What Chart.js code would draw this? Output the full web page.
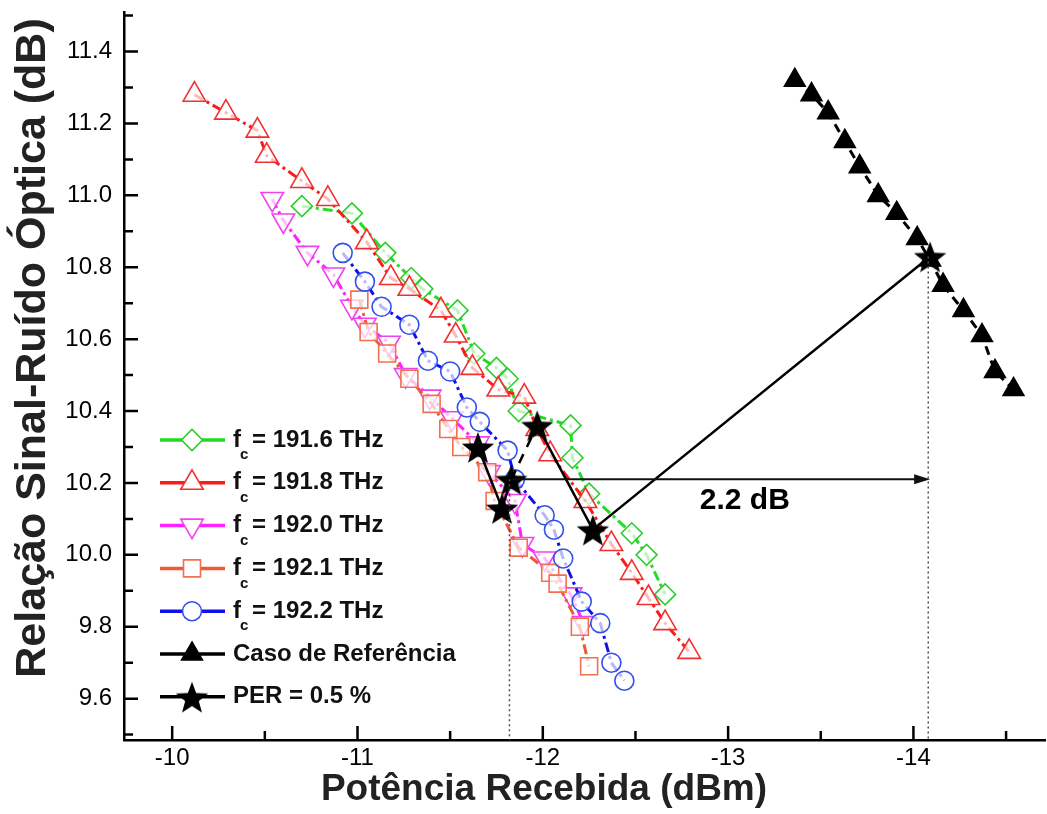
<!DOCTYPE html>
<html>
<head>
<meta charset="utf-8">
<script src="https://cdn.jsdelivr.net/npm/chart.js@4.4.1/dist/chart.umd.min.js"></script>
<style>
  html, body { margin: 0; padding: 0; background: #fff; }
  #chart { display: block; }
</style>
</head>
<body>
<canvas id="chart" width="1047" height="814"></canvas>
<script>
// valores: x = potência recebida (dBm), y = OSNR (dB)
const x1916 = [-10.70, -10.97, -11.15, -11.29, -11.35, -11.54, -11.63, -11.75, -11.81, -11.87, -12.15, -12.16, -12.25, -12.48, -12.56, -12.66];
const y1916 = [10.97, 10.95, 10.84, 10.77, 10.74, 10.68, 10.56, 10.52, 10.49, 10.40, 10.36, 10.27, 10.17, 10.06, 10.00, 9.89];

const x1918 = [-10.12, -10.29, -10.46, -10.51, -10.70, -10.84, -11.05, -11.18, -11.28, -11.45, -11.53, -11.62, -11.76, -11.90, -11.97, -12.04, -12.23, -12.37, -12.48, -12.57, -12.66, -12.79];
const y1918 = [11.28, 11.23, 11.18, 11.11, 11.04, 10.99, 10.87, 10.77, 10.74, 10.68, 10.61, 10.52, 10.46, 10.44, 10.35, 10.28, 10.15, 10.03, 9.95, 9.88, 9.81, 9.73];

const x1920 = [-10.54, -10.60, -10.73, -10.87, -10.97, -11.04, -11.17, -11.26, -11.39, -11.51, -11.65, -11.71, -11.85, -11.89, -12.01, -12.15, -12.22];
const y1920 = [10.99, 10.93, 10.84, 10.78, 10.69, 10.64, 10.59, 10.50, 10.44, 10.38, 10.31, 10.23, 10.15, 10.03, 9.99, 9.89, 9.81];

const x1921 = [-11.01, -11.06, -11.16, -11.28, -11.40, -11.49, -11.56, -11.70, -11.74, -11.87, -12.04, -12.08, -12.20, -12.25];
const y1921 = [10.71, 10.62, 10.56, 10.49, 10.42, 10.35, 10.30, 10.23, 10.15, 10.02, 9.95, 9.92, 9.80, 9.69];

const x1922 = [-10.92, -11.04, -11.13, -11.28, -11.38, -11.50, -11.59, -11.66, -11.81, -11.85, -12.01, -12.06, -12.11, -12.21, -12.31, -12.37, -12.44];
const y1922 = [10.84, 10.76, 10.69, 10.64, 10.54, 10.51, 10.41, 10.37, 10.29, 10.21, 10.11, 10.07, 9.99, 9.87, 9.81, 9.70, 9.65];

const xRef = [-13.36, -13.45, -13.54, -13.63, -13.71, -13.81, -13.91, -14.02, -14.09, -14.16, -14.27, -14.37, -14.44, -14.54];
const yRef = [11.32, 11.28, 11.23, 11.15, 11.08, 11.00, 10.95, 10.88, 10.82, 10.75, 10.68, 10.61, 10.51, 10.46];

// pontos de PER = 0.5 %, na ordem em que a linha os liga
const xPer = [-11.65, -11.78, -11.83, -11.97, -12.27, -14.09];
const yPer = [10.30, 10.13, 10.21, 10.36, 10.07, 10.83];

const legendLabels = ['fc = 191.6 THz', 'fc = 191.8 THz', 'fc = 192.0 THz', 'fc = 192.1 THz', 'fc = 192.2 THz', 'Caso de Referência', 'PER = 0.5 %'];
const xTickValues = [-10, -11, -12, -13, -14];
const yTickValues = [9.6, 9.8, 10.0, 10.2, 10.4, 10.6, 10.8, 11.0, 11.2, 11.4];
const xTitle = 'Potência Recebida (dBm)';
const yTitle = 'Relação Sinal-Ruído Óptica (dB)';

// seta de 2.2 dB e linhas pontilhadas
const gapY = 10.21;
const gapFrom = -11.83;
const gapTo = -14.09;
const gapText = '2.2 dB';
const gapTextPos = [-13.09, 10.15];
const dropLines = [[-11.82, 10.21], [-14.08, 10.83]];

const FONT = '"Liberation Sans", Arial, sans-serif';

function pts(xs, ys) {
    return xs.map((x, i) => ({ x: x, y: ys[i] }));
}

function makeStar(size) {
    const c = document.createElement('canvas');
    c.width = size; c.height = size;
    const g = c.getContext('2d');
    const r = size / 2, ri = r * 0.42;
    g.beginPath();
    for (let i = 0; i < 10; i++) {
        const a = -Math.PI / 2 + i * Math.PI / 5;
        const rr = (i % 2) ? ri : r;
        g.lineTo(r + rr * Math.cos(a), r + 2 + rr * Math.sin(a));
    }
    g.closePath();
    g.fillStyle = '#000';
    g.fill();
    return c;
}
const starImg = makeStar(34);

const hollow = 'rgba(255,255,255,0.7)';
const dashDot = [10, 4, 3, 4];

const datasets = [
    { label: legendLabels[0], data: pts(x1916, y1916), borderColor: '#22dd22', pointBorderColor: '#30cc30',
      pointStyle: 'rectRot', pointRadius: 10.5, order: 5 },
    { label: legendLabels[1], data: pts(x1918, y1918), borderColor: '#ff1a1a', pointBorderColor: '#f03030',
      pointStyle: 'triangle', pointRadius: 13, order: 4 },
    { label: legendLabels[2], data: pts(x1920, y1920), borderColor: '#ff22ff', pointBorderColor: '#ee44ee',
      pointStyle: 'triangle', pointRotation: 180, pointRadius: 13, order: 3 },
    { label: legendLabels[3], data: pts(x1921, y1921), borderColor: '#ee5a36', pointBorderColor: '#f07050',
      pointStyle: 'rect', pointRadius: 12, order: 2 },
    { label: legendLabels[4], data: pts(x1922, y1922), borderColor: '#1010ee', pointBorderColor: '#3350ee',
      pointStyle: 'circle', pointRadius: 9.5, order: 1 },
    { label: legendLabels[5], data: pts(xRef, yRef), borderColor: '#000', pointBorderColor: '#000',
      pointBackgroundColor: '#000', pointStyle: 'triangle', pointRadius: 12, borderDash: [9, 6], order: 0 },
    { label: legendLabels[6], data: pts(xPer, yPer), borderColor: '#000', pointStyle: starImg,
      borderDash: [], borderWidth: 2.5, order: -1,
      segment: { borderDash: ctx => ctx.p0DataIndex === 2 ? [10, 8] : undefined } }
];
datasets.forEach(ds => {
    ds.showLine = true;
    if (ds.borderWidth === undefined) ds.borderWidth = 3;
    if (ds.borderDash === undefined) ds.borderDash = dashDot;
    if (ds.pointBackgroundColor === undefined) ds.pointBackgroundColor = hollow;
    ds.pointBorderWidth = 1.6;
    ds.pointHoverRadius = ds.pointRadius;
    ds.tension = 0;
});

// marcas de escala para dentro, com as menores, e os títulos dos eixos
const axesPlugin = {
    id: 'axesDeco',
    afterDraw(chart) {
        const ctx = chart.ctx;
        const xs = chart.scales.x, ys = chart.scales.y;
        const a = chart.chartArea;
        ctx.save();
        ctx.strokeStyle = '#000';
        ctx.lineWidth = 2.5;
        ctx.beginPath();
        xTickValues.forEach(v => {
            let p = xs.getPixelForValue(v);
            ctx.moveTo(p, a.bottom); ctx.lineTo(p, a.bottom - 14);
            [v + 0.5, v - 0.5].forEach(m => {
                if (m <= xs.max && m >= xs.min) {
                    p = xs.getPixelForValue(m);
                    ctx.moveTo(p, a.bottom); ctx.lineTo(p, a.bottom - 9);
                }
            });
        });
        yTickValues.forEach(v => {
            let p = ys.getPixelForValue(v);
            ctx.moveTo(a.left, p); ctx.lineTo(a.left + 14, p);
            [v + 0.1, v - 0.1].forEach(m => {
                if (m <= ys.max && m >= ys.min) {
                    p = ys.getPixelForValue(m);
                    ctx.moveTo(a.left, p); ctx.lineTo(a.left + 9, p);
                }
            });
        });
        ctx.stroke();

        ctx.fillStyle = '#222';
        ctx.textAlign = 'center';
        ctx.textBaseline = 'middle';
        ctx.font = 'bold 37px ' + FONT;
        ctx.fillText(xTitle, 544, 790);
        ctx.translate(33, 348);
        ctx.rotate(-Math.PI / 2);
        ctx.font = 'bold 43px ' + FONT;
        ctx.fillText(yTitle, 0, 0);
        ctx.restore();
    }
};

// seta, linhas pontilhadas e texto "2.2 dB"
const notesPlugin = {
    id: 'notes',
    afterDatasetsDraw(chart) {
        const ctx = chart.ctx;
        const xs = chart.scales.x, ys = chart.scales.y;
        const a = chart.chartArea;
        ctx.save();
        ctx.strokeStyle = '#5a4a4a';
        ctx.lineWidth = 1.5;
        ctx.setLineDash([2, 3]);
        dropLines.forEach(d => {
            const px = xs.getPixelForValue(d[0]);
            ctx.beginPath();
            ctx.moveTo(px, ys.getPixelForValue(d[1]));
            ctx.lineTo(px, a.bottom);
            ctx.stroke();
        });
        ctx.setLineDash([]);
        const y = ys.getPixelForValue(gapY);
        const x0 = xs.getPixelForValue(gapFrom), x1 = xs.getPixelForValue(gapTo);
        ctx.strokeStyle = '#111';
        ctx.lineWidth = 2;
        ctx.beginPath();
        ctx.moveTo(x0, y); ctx.lineTo(x1 - 4, y);
        ctx.stroke();
        ctx.fillStyle = '#111';
        ctx.beginPath();
        ctx.moveTo(x1, y); ctx.lineTo(x1 - 16, y - 5); ctx.lineTo(x1 - 16, y + 5);
        ctx.closePath();
        ctx.fill();
        ctx.font = 'bold 30px ' + FONT;
        ctx.textAlign = 'center';
        ctx.textBaseline = 'middle';
        ctx.fillStyle = '#000';
        ctx.fillText(gapText, xs.getPixelForValue(gapTextPos[0]), ys.getPixelForValue(gapTextPos[1]));
        ctx.restore();
    }
};

// legenda dentro da área do gráfico
const legendPlugin = {
    id: 'insideLegend',
    afterDraw(chart) {
        const ctx = chart.ctx;
        const lx0 = 160, lx1 = 225, mx = 192, tx = 233;
        const y0 = 440, dy = 42.8;
        ctx.save();
        chart.data.datasets.forEach((ds, i) => {
            const y = y0 + i * dy;
            ctx.strokeStyle = ds.borderColor;
            ctx.lineWidth = 3.5;
            ctx.setLineDash([]);
            ctx.beginPath();
            ctx.moveTo(lx0, y); ctx.lineTo(lx1, y);
            ctx.stroke();
            ctx.fillStyle = ds.pointBackgroundColor === hollow ? '#fff' : ds.pointBackgroundColor;
            ctx.strokeStyle = ds.pointBorderColor || '#000';
            ctx.lineWidth = ds.pointBorderWidth;
            Chart.helpers.drawPoint(ctx, {
                pointStyle: ds.pointStyle, radius: ds.pointRadius || 10,
                rotation: ds.pointRotation || 0, borderWidth: ds.pointBorderWidth
            }, mx, y);
            ctx.fillStyle = '#111';
            ctx.textAlign = 'left';
            ctx.textBaseline = 'middle';
            let text = ds.label;
            let x = tx;
            if (text.indexOf('fc ') === 0) {
                ctx.font = 'bold 24px ' + FONT;
                ctx.fillText('f', x, y);
                ctx.font = 'bold 15px ' + FONT;
                ctx.fillText('c', x + 7, y + 15);
                text = text.slice(3);
                x += 19;
            }
            ctx.font = 'bold 24px ' + FONT;
            ctx.fillText(text, x, y);
        });
        ctx.restore();
    }
};

new Chart(document.getElementById('chart'), {
    type: 'scatter',
    data: { datasets: datasets },
    plugins: [axesPlugin, notesPlugin, legendPlugin],
    options: {
        responsive: false,
        animation: false,
        devicePixelRatio: 1,
        layout: { autoPadding: false, padding: { top: 12, right: 2, left: 0, bottom: 0 } },
        plugins: { legend: { display: false }, tooltip: { enabled: false } },
        scales: {
            x: {
                type: 'linear',
                reverse: true,
                min: -14.71,
                max: -9.74,
                grid: { display: false, drawTicks: false },
                border: { display: true, color: '#000', width: 2.5 },
                afterBuildTicks: s => { s.ticks = xTickValues.map(v => ({ value: v })); },
                afterFit: s => { s.height = 74; s.paddingLeft = 0; s.paddingRight = 0; },
                ticks: {
                    color: '#000', padding: 4, maxRotation: 0, autoSkip: false,
                    font: { family: FONT, size: 24 },
                    callback: v => String(v)
                }
            },
            y: {
                type: 'linear',
                min: 9.485,
                max: 11.51,
                grid: { display: false, drawTicks: false },
                border: { display: true, color: '#000', width: 2.5 },
                afterBuildTicks: s => { s.ticks = yTickValues.map(v => ({ value: v })); },
                afterFit: s => { s.width = 124; s.paddingTop = 0; s.paddingBottom = 0; },
                ticks: {
                    color: '#000', padding: 12, autoSkip: false,
                    font: { family: FONT, size: 24 },
                    callback: v => v.toFixed(1)
                }
            }
        }
    }
});
</script>
</body>
</html>
